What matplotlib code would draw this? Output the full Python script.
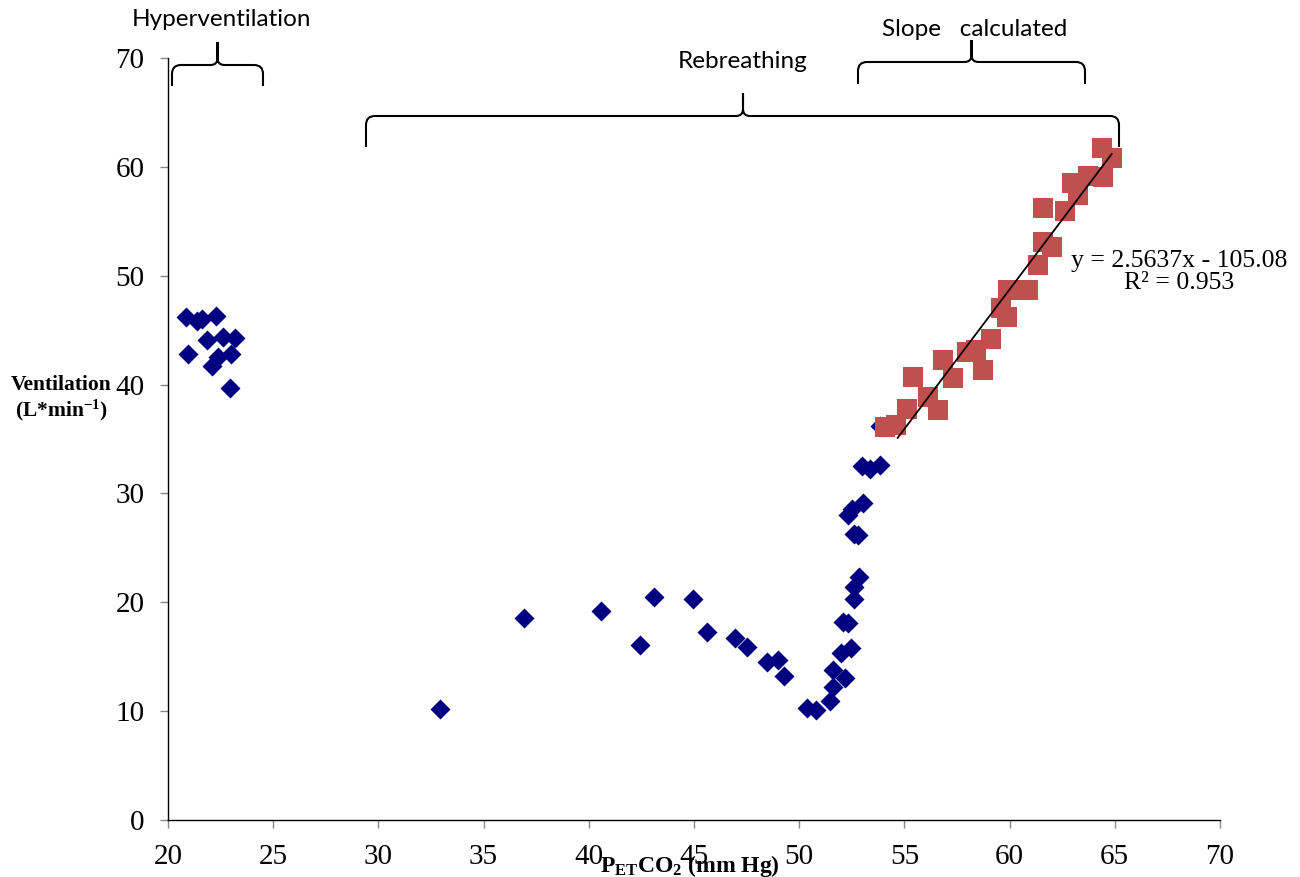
import matplotlib
matplotlib.use("Agg")
import matplotlib.pyplot as plt
from matplotlib.path import Path
from matplotlib.patches import PathPatch

# -----------------------------
# Data
# -----------------------------

hyper_x = [20.86, 21.4, 21.6, 22.3, 21.84, 22.6, 23.2, 20.95, 22.1, 22.4, 23.0, 22.95]
hyper_y = [46.2, 45.8, 46.0, 46.3, 44.1, 44.4, 44.3, 42.8, 41.7, 42.5, 42.8, 39.7]

rebreath_x = [32.93, 36.92, 40.58, 42.43, 43.1, 44.95, 45.62, 46.95, 47.5, 48.45,
              49.0, 49.28, 50.36, 50.8, 51.46, 51.6, 52.2, 51.6, 52.0, 52.46,
              52.1, 52.3, 52.6, 52.6, 52.86, 52.6, 52.8, 52.34, 52.5, 53.05,
              52.97, 53.37, 53.84, 53.84]
rebreath_y = [10.2, 18.6, 19.2, 16.1, 20.5, 20.3, 17.3, 16.7, 15.9, 14.5,
              14.7, 13.2, 10.3, 10.1, 10.9, 12.2, 13.0, 13.8, 15.3, 15.8,
              18.2, 18.1, 20.3, 21.4, 22.35, 26.3, 26.2, 28.0, 28.6, 29.1,
              32.5, 32.2, 32.6, 36.2]

slope_x = [54.08, 54.6, 55.1, 55.43, 56.1, 56.6, 56.85, 57.3, 57.96, 58.4,
           58.75, 59.1, 59.6, 59.86, 59.94, 60.4, 60.88, 61.36, 61.6, 62.0,
           61.6, 62.63, 62.95, 63.26, 63.74, 64.45, 64.37, 64.85]
slope_y = [36.1, 36.3, 37.8, 40.7, 38.9, 37.7, 42.3, 40.6, 43.0, 43.2,
           41.3, 44.2, 47.0, 46.2, 48.7, 48.7, 48.7, 51.0, 53.1, 52.6,
           56.2, 55.9, 58.5, 57.4, 59.2, 59.1, 61.7, 60.8]

fit_slope = 2.5637
fit_intercept = -105.08
fit_r2 = 0.953

x_ticks = [20, 25, 30, 35, 40, 45, 50, 55, 60, 65, 70]
y_ticks = [0, 10, 20, 30, 40, 50, 60, 70]

SERIF = "Liberation Serif"
SANS = "Lato"

plt.rcParams["mathtext.fontset"] = "custom"
plt.rcParams["mathtext.rm"] = SERIF
plt.rcParams["mathtext.bf"] = SERIF + ":bold"
plt.rcParams["mathtext.it"] = SERIF + ":italic"


def brace(ax, x0, x1, xt, yh, yb, yt, r=9, r2=7):
    """Curly brace in figure pixel coordinates (y grows downwards)."""
    verts = [
        (x0, yb), (x0, yh + r),
        (x0, yh), (x0 + r, yh),
        (xt - r2, yh),
        (xt, yh), (xt, yh - r2),
        (xt, yt),
        (xt, yh - r2),
        (xt, yh), (xt + r2, yh),
        (x1 - r, yh),
        (x1, yh), (x1, yh + r),
        (x1, yb),
    ]
    codes = [
        Path.MOVETO, Path.LINETO,
        Path.CURVE3, Path.CURVE3,
        Path.LINETO,
        Path.CURVE3, Path.CURVE3,
        Path.LINETO,
        Path.LINETO,
        Path.CURVE3, Path.CURVE3,
        Path.LINETO,
        Path.CURVE3, Path.CURVE3,
        Path.LINETO,
    ]
    ax.add_patch(PathPatch(Path(verts, codes), fill=False, lw=1.5,
                           edgecolor="black", capstyle="butt"))


def main():

    fig = plt.figure(figsize=(13, 8.77), dpi=100)

    ax = fig.add_axes([168 / 1300, 1 - 820 / 877, (1220 - 168) / 1300, (820 - 58) / 877])

    ax.scatter(hyper_x, hyper_y, marker="D", s=10.2 ** 2, color="#000080",
               linewidths=0, zorder=3)
    ax.scatter(rebreath_x, rebreath_y, marker="D", s=10.2 ** 2, color="#000080",
               linewidths=0, zorder=3)
    ax.scatter(slope_x, slope_y, marker="s", s=14.4 ** 2, color="#C0504D",
               linewidths=0, zorder=4)

    # linear trendline over the red points
    x_fit = [min(slope_x) + 0.6, max(slope_x)]
    y_fit = [fit_slope * v + fit_intercept for v in x_fit]
    ax.plot(x_fit, y_fit, color="black", lw=1.3, zorder=5)

    ax.set_xlim(20, 70)
    ax.set_ylim(0, 70)
    ax.set_xticks(x_ticks)
    ax.set_yticks(y_ticks)

    for side in ["top", "right"]:
        ax.spines[side].set_visible(False)
    for side in ["left", "bottom"]:
        ax.spines[side].set_color("black")
        ax.spines[side].set_linewidth(1.0)

    ax.tick_params(direction="out", length=6, width=1, color="#888888",
                   labelsize=21)
    ax.tick_params(axis="y", pad=11)
    ax.tick_params(axis="x", pad=11)
    for lab in ax.get_xticklabels() + ax.get_yticklabels():
        lab.set_fontfamily(SERIF)

    # axis labels (placed in figure pixels)
    over = fig.add_axes([0, 0, 1, 1], zorder=10)
    over.set_xlim(0, 1300)
    over.set_ylim(877, 0)
    over.axis("off")
    over.patch.set_alpha(0)

    over.text(61, 385, "Ventilation", family=SERIF, weight="bold",
              fontsize=15.5, ha="center", va="center")
    over.text(62, 410, r"(L*min$^{\mathbf{-1}}$)", family=SERIF, weight="bold",
              fontsize=15.5, ha="center", va="center")
    over.text(690, 866, r"P$_{\mathbf{ET}}$CO$_{\mathbf{2}}$ (mm Hg)", family=SERIF,
              weight="bold", fontsize=17, ha="center", va="center")

    over.text(1179, 272,
              f"y = {fit_slope}x - {abs(fit_intercept)}\nR\u00b2 = {fit_r2}",
              family=SERIF, fontsize=18.5, ha="center", va="center",
              multialignment="center", linespacing=1.0)

    # phase annotations
    over.text(222, 19, "Hyperventilation", family=SANS, fontsize=17.5,
              ha="center", va="center")
    over.text(743, 61, "Rebreathing", family=SANS, fontsize=17.5,
              ha="center", va="center")
    over.text(975, 30, "Slope   calculated", family=SANS, fontsize=17.5,
              ha="center", va="center")

    brace(over, 172, 263, 217.5, 65, 86, 42)
    brace(over, 366, 1119, 743, 116, 147, 93)
    brace(over, 858, 1085, 971.5, 62, 84, 40)

    fig.savefig("out.png", dpi=100)
    plt.close(fig)


if __name__ == "__main__":
    main()
